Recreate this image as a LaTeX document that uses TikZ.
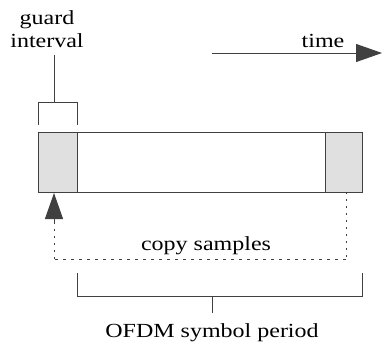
\documentclass[tikz,border=0pt]{standalone}
\usepackage{fontspec}
\setmainfont{Liberation Serif}
\usetikzlibrary{arrows.meta}
\tikzset{
  ln/.style={line width=1pt, draw=black!75},
  shade/.style={ln, fill=black!12},
  lbl/.style={inner sep=0pt, font=\fontsize{20}{22}\selectfont, xscale=1.2, text=black},
  bigtip/.style={-{Triangle[length=26pt,width=18pt]}},
  dsh/.style={ln, dash pattern=on 3pt off 5pt},
  dts/.style={ln, dash pattern=on 2pt off 5pt}
}
\begin{document}
\begin{tikzpicture}[x=1pt,y=-1pt]
\useasboundingbox (0,0) rectangle (382,346);
% main rectangle
\node[ln, draw, minimum width=324pt, minimum height=60pt, inner sep=0pt, anchor=north west] (sym) at (38,132) {};
\node[shade, draw, minimum width=39pt, minimum height=60pt, inner sep=0pt, anchor=north west] (gi) at (38,132) {};
\node[shade, draw, minimum width=37pt, minimum height=60pt, inner sep=0pt, anchor=north west] (tail) at (325,132) {};
% guard interval bracket
\node[lbl, anchor=base] (gtxt1) at (47,24) {guard};
\node[lbl, anchor=base] (gtxt2) at (47,47) {interval};
\coordinate (gstem) at (54,55);
\draw[ln] (38,125) -- (38,102) -- (77,102) -- (77,125);
\draw[ln] (gstem) -- (54,102);
% time arrow
\coordinate (t0) at (212,53);
\coordinate (t1) at (382,53);
\draw[ln, bigtip] (t0) -- (t1);
\node[lbl, anchor=base] (time) at (323,47) {time};
% copy samples
\coordinate (c0) at (346,192);
\coordinate (c1) at (346,259);
\coordinate (c2) at (54,259);
\coordinate (c3) at (54,193);
\draw[dts] (c0) -- (c1);
\draw[dsh] (c1) -- (c2);
\draw[dts] (c2) -- (54,220);
\draw[ln, bigtip] (54,222) -- (c3);
\node[lbl, anchor=base] (copy) at (206,250) {copy samples};
% OFDM symbol period bracket
\draw[ln] (77,273) -- (77,296) -- (362,296) -- (362,273);
\coordinate (pstem) at (212,313);
\draw[ln] (212,296) -- (pstem);
\node[lbl, anchor=base] (ofdm) at (212,337) {OFDM symbol period};
\end{tikzpicture}
\end{document}
